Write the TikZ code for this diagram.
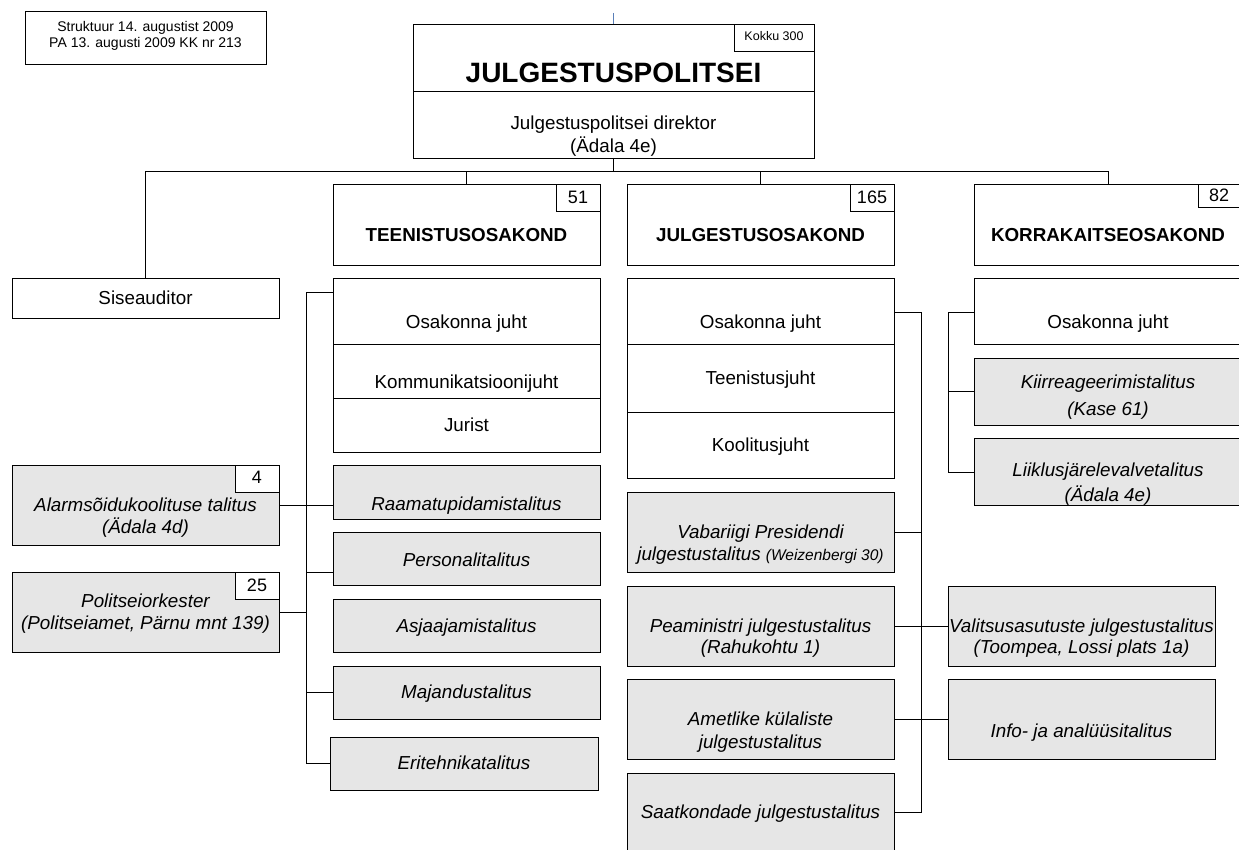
\documentclass[tikz,border=0pt]{standalone}
\usepackage{fontspec}
\setmainfont{Liberation Sans}
\definecolor{boxgray}{HTML}{E6E6E6}
\definecolor{topline}{HTML}{5A7FB8}
\newcommand\bx[6]{\node[#1, minimum width={#4-#2}, minimum height={#5-#3}] (#6) at (#2,#3) {};}
\tikzset{
  box/.style={draw=black, line width=0.9pt, inner sep=0pt, outer sep=0pt, anchor=north west},
  wbox/.style={box, fill=white},
  gbox/.style={box, fill=boxgray},
  txt/.style={anchor=base, inner sep=0pt, font=\fontsize{18.8}{22}\selectfont},
  itxt/.style={anchor=base, inner sep=0pt, font=\fontsize{18.8}{22}\selectfont\itshape},
  btxt/.style={anchor=base, inner sep=0pt, font=\fontsize{18.8}{22}\selectfont\bfseries},
  ntxt/.style={anchor=base, inner sep=0pt, font=\fontsize{18}{21}\selectfont},
  conn/.style={draw=black, line width=0.9pt}
}
\begin{document}
\begin{tikzpicture}[x=1pt,y=-1pt]
\useasboundingbox (0,0) rectangle (1239,850);
\clip (0,0) rectangle (1239,850);
\fill[white] (0,0) rectangle (1239,850);

% info box
\bx{wbox}{25}{11}{266}{64}{info}
\node[anchor=base, inner sep=0pt, font=\fontsize{14}{16}\selectfont] (info1) at (145.5,32) {Struktuur 14. augustist 2009};
\node[anchor=base, inner sep=0pt, font=\fontsize{14}{16}\selectfont] (info2) at (145.5,48) {PA 13. augusti 2009 KK nr 213};

% main box
\coordinate (topc) at (613.5,13);
\bx{wbox}{413}{24}{814}{91}{maintop}
\bx{wbox}{413}{91}{814}{158}{mainbot}
\bx{wbox}{734}{24}{814}{51}{kokku}
\node[anchor=base, inner sep=0pt, font=\fontsize{12.5}{14}\selectfont] (kokkut) at (774,41) {Kokku 300};
\node[anchor=base, inner sep=0pt, font=\fontsize{28}{32}\selectfont\bfseries] (title) at (613.5,83) {JULGESTUSPOLITSEI};
\node[txt] (dir1) at (613.5,130) {Julgestuspolitsei direktor};
\node[txt] (dir2) at (613.5,153) {(Ädala 4e)};
\draw[topline, line width=0.8pt] (topc) -- (maintop.north);

% headers
\bx{wbox}{333}{184}{600}{265}{teenh}
\bx{wbox}{556}{184}{600}{211}{teenn}
\node[ntxt] (teennt) at (578,204) {51};
\node[btxt] (teenht) at (466.5,242) {TEENISTUSOSAKOND};

\bx{wbox}{627}{184}{894}{265}{julgh}
\bx{wbox}{850}{184}{894}{211}{julgn}
\node[ntxt] (julgnt) at (872,204) {165};
\node[btxt] (julght) at (760.5,242) {JULGESTUSOSAKOND};

\bx{wbox}{974}{184}{1242}{265}{korrh}
\bx{wbox}{1198}{184}{1242}{207}{korrn}
\node[ntxt] (korrnt) at (1219,202) {82};
\node[btxt] (korrht) at (1108,242) {KORRAKAITSEOSAKOND};

% Siseauditor
\bx{wbox}{12}{278}{279}{318}{sise}
\node[txt] (siset) at (145.5,304) {Siseauditor};

% top bus
\coordinate (bus) at (613.5,171);
\draw[conn] (mainbot.south) -- (bus);
\draw[conn] (sise.north) -- (sise.north |- bus) -- (korrh.north |- bus) -- (korrh.north);
\draw[conn] (teenh.north) -- (teenh.north |- bus);
\draw[conn] (julgh.north) -- (julgh.north |- bus);

% Teenistus stack
\bx{wbox}{333}{278}{600}{344}{teen1}
\bx{wbox}{333}{344}{600}{398}{teen2}
\bx{wbox}{333}{398}{600}{452}{teen3}
\node[txt] (teen1t) at (466.5,328) {Osakonna juht};
\node[txt] (teen2t) at (466.5,388) {Kommunikatsioonijuht};
\node[txt] (teen3t) at (466.5,431) {Jurist};

\bx{gbox}{333}{465}{600}{519}{raam}
\node[itxt] (raamt) at (466.5,510) {Raamatupidamistalitus};
\bx{gbox}{333}{532}{600}{585}{pers}
\node[itxt] (perst) at (466.5,566) {Personalitalitus};
\bx{gbox}{333}{599}{600}{652}{asja}
\node[itxt] (asjat) at (466.5,632) {Asjaajamistalitus};
\bx{gbox}{333}{666}{600}{719}{maja}
\node[itxt] (majat) at (466.5,698) {Majandustalitus};
\bx{gbox}{330}{737}{598}{790}{erit}
\node[itxt] (eritt) at (464,769) {Eritehnikatalitus};

% left gray boxes
\bx{gbox}{12}{465}{279}{545}{alarm}
\bx{wbox}{235}{465}{279}{492}{alarmn}
\node[ntxt] (alarmnt) at (257,483) {4};
\node[itxt] (alarm1) at (145.5,511) {Alarmsõidukoolituse talitus};
\node[itxt] (alarm2) at (145.5,533) {(Ädala 4d)};

\bx{gbox}{12}{572}{279}{652}{polit}
\bx{wbox}{235}{572}{279}{599}{politn}
\node[ntxt] (politnt) at (257,591) {25};
\node[itxt] (polit1) at (145.5,607) {Politseiorkester};
\node[itxt] (polit2) at (145.5,629) {(Politseiamet, Pärnu mnt 139)};

% Teenistus connectors
\coordinate (t1) at (306,292);
\coordinate (t2) at (306,763);
\draw[conn] (t1 -| teen1.west) -- (t1) -- (t2) -- (t2 -| erit.west);
\draw[conn] (alarm.east) -- (alarm.east -| raam.west);
\draw[conn] (t1 |- 0,572) -- (pers.west |- 0,572);
\draw[conn] (polit.east) -- (polit.east -| t1);
\draw[conn] (maja.west) -- (maja.west -| t1);

% Julgestus stack
\bx{wbox}{627}{278}{894}{344}{julg1}
\bx{wbox}{627}{344}{894}{412}{julg2}
\bx{wbox}{627}{412}{894}{478}{julg3}
\node[txt] (julg1t) at (760.5,328) {Osakonna juht};
\node[txt] (julg2t) at (760.5,384) {Teenistusjuht};
\node[txt] (julg3t) at (760.5,451) {Koolitusjuht};

\bx{gbox}{627}{492}{894}{572}{vaba}
\node[itxt] (vaba1) at (760.5,538) {Vabariigi Presidendi};
\node[itxt] (vaba2) at (760.5,560) {julgestustalitus {\fontsize{15.5}{18}\selectfont(Weizenbergi 30)}};
\bx{gbox}{627}{586}{894}{666}{peam}
\node[itxt] (peam1) at (760.5,632) {Peaministri julgestustalitus};
\node[itxt] (peam2) at (760.5,653) {(Rahukohtu 1)};
\bx{gbox}{627}{679}{894}{759}{amet}
\node[itxt] (amet1) at (760.5,725) {Ametlike külaliste};
\node[itxt] (amet2) at (760.5,748) {julgestustalitus};
\bx{gbox}{627}{773}{894}{870}{saat}
\node[itxt] (saatt) at (760.5,818) {Saatkondade julgestustalitus};

\bx{gbox}{948}{586}{1215}{666}{valit}
\node[itxt] (valit1) at (1081.5,632) {Valitsusasutuste julgestustalitus};
\node[itxt] (valit2) at (1081.5,653) {(Toompea, Lossi plats 1a)};
\bx{gbox}{948}{679}{1215}{759}{infoa}
\node[itxt] (infoat) at (1081.5,737) {Info- ja analüüsitalitus};

% Julgestus connectors
\coordinate (j1) at (921,312);
\coordinate (j2) at (921,812);
\draw[conn] (j1 -| julg1.east) -- (j1) -- (j2) -- (j2 -| saat.east);
\draw[conn] (vaba.east) -- (vaba.east -| j1);
\draw[conn] (peam.east) -- (valit.west);
\draw[conn] (amet.east) -- (infoa.west);

% Korrakaitse stack
\bx{wbox}{974}{278}{1242}{344}{korr1}
\node[txt] (korr1t) at (1108,328) {Osakonna juht};
\bx{gbox}{974}{358}{1242}{425}{kiir}
\node[itxt] (kiir1) at (1108,388) {Kiirreageerimistalitus};
\node[itxt] (kiir2) at (1108,415) {(Kase 61)};
\bx{gbox}{974}{438}{1242}{505}{liik}
\node[itxt] (liik1) at (1108,476) {Liiklusjärelevalvetalitus};
\node[itxt] (liik2) at (1108,501) {(Ädala 4e)};

\coordinate (k1) at (948,312);
\coordinate (k2) at (948,472);
\draw[conn] (k1 -| korr1.west) -- (k1) -- (k2) -- (k2 -| liik.west);
\draw[conn] (kiir.west) -- (kiir.west -| k1);
\end{tikzpicture}
\end{document}
